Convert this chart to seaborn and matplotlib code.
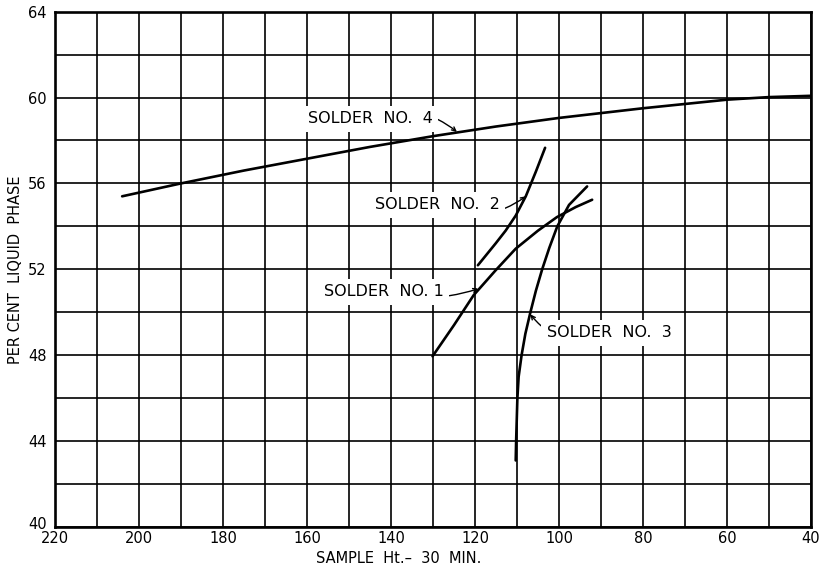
import pandas as pd
import seaborn as sns
import matplotlib.pyplot as plt
from matplotlib.transforms import ScaledTranslation

# values
s4_x = [204, 190, 175, 160, 145, 130, 115, 100, 80, 60, 50, 40]
s4_y = [55.4, 56.0, 56.6, 57.15, 57.7, 58.2, 58.65, 59.05, 59.5, 59.9, 60.02, 60.08]

s2_x = [119.3, 115.1, 112.7, 110.3, 107.9, 105.5, 103.3]
s2_y = [52.19, 53.2, 53.8, 54.5, 55.4, 56.55, 57.66]

s1_x = [130.1, 125, 120.3, 115.1, 110.3, 105, 100.5, 96, 92.1]
s1_y = [47.95, 49.4, 50.8, 51.95, 52.96, 53.8, 54.43, 54.9, 55.24]

s3_x = [110.3, 110.2, 109.9, 109.6, 108.9, 108.0, 106.8, 105.5, 104.0, 102.3, 100.4, 97.6, 93.3]
s3_y = [43.1, 44.0, 46.0, 47.0, 48.0, 49.0, 50.0, 51.0, 52.0, 53.0, 54.0, 55.0, 55.86]

x_ticks = [220, 200, 180, 160, 140, 120, 100, 80, 60, 40]
y_ticks = [40, 44, 48, 52, 56, 60, 64]

# label text, text position, leader end point, leader bend
labels = [
    ("SOLDER  NO.  4", (145, 59.0), (124.3, 58.4), -0.3),
    ("SOLDER  NO.  2", (129, 55.0), (107.9, 55.4), 0.3),
    ("SOLDER  NO. 1", (141.7, 50.95), (119.2, 51.1), 0.15),
    ("SOLDER  NO.  3", (88.1, 49.05), (106.8, 49.9), -0.4),
]

frames = []
for name, xs, ys in [("4", s4_x, s4_y), ("2", s2_x, s2_y),
                     ("1", s1_x, s1_y), ("3", s3_x, s3_y)]:
    frames.append(pd.DataFrame({"x": xs, "y": ys, "solder": name}))
df = pd.concat(frames, ignore_index=True)

sns.set_style("white", rc={"text.color": "black", "axes.labelcolor": "black",
                           "xtick.color": "black", "ytick.color": "black"})
plt.rcParams['font.family'] = ['DejaVu Sans']

fig = plt.figure(figsize=(8.2, 5.67), dpi=100)
ax = fig.add_axes([0.067, 0.0705, 0.922, 0.909])

# --- grid: every 10 on x, every 2 on y ---
for gx in range(220, 39, -10):
    ax.axvline(gx, color='black', lw=1.2, zorder=1)
for gy in range(40, 65, 2):
    ax.axhline(gy, color='black', lw=1.2, zorder=1)

sns.lineplot(data=df, x="x", y="y", units="solder", estimator=None,
             sort=False, color='black', lw=1.9, ax=ax, zorder=3)

for text, pos, tip, rad in labels:
    ax.annotate(text, xy=tip, xytext=pos, ha='center', va='center',
                fontsize=11.5, color='black', zorder=4,
                bbox=dict(boxstyle='square,pad=0.35', fc='white', ec='none'),
                arrowprops=dict(arrowstyle='->', color='black', lw=1.0,
                                mutation_scale=7, shrinkA=0, shrinkB=0,
                                connectionstyle=f'arc3,rad={rad}'))

ax.set_xlim(220, 40)
ax.set_ylim(40, 64)
ax.set_xticks(x_ticks)
ax.set_yticks(y_ticks)
ax.tick_params(axis='x', length=0, labelsize=10.5, pad=3)
ax.tick_params(axis='y', length=0, labelsize=10.5, pad=6)
for sp in ax.spines.values():
    sp.set_linewidth(1.9)
    sp.set_color('black')

# lift the bottom "40" a little so it clears "220"
lbl40 = ax.get_yticklabels()[0]
lbl40.set_transform(lbl40.get_transform() + ScaledTranslation(0, 3 / 72, fig.dpi_scale_trans))

ax.set_xlabel("SAMPLE  Ht.\u2013  30  MIN.", fontsize=10.5)
ax.set_ylabel("PER CENT  LIQUID  PHASE", fontsize=10.5)
ax.xaxis.set_label_coords(0.455, -0.046)
ax.yaxis.set_label_coords(-0.042, 0.5)

fig.savefig("out.png", dpi=100)
